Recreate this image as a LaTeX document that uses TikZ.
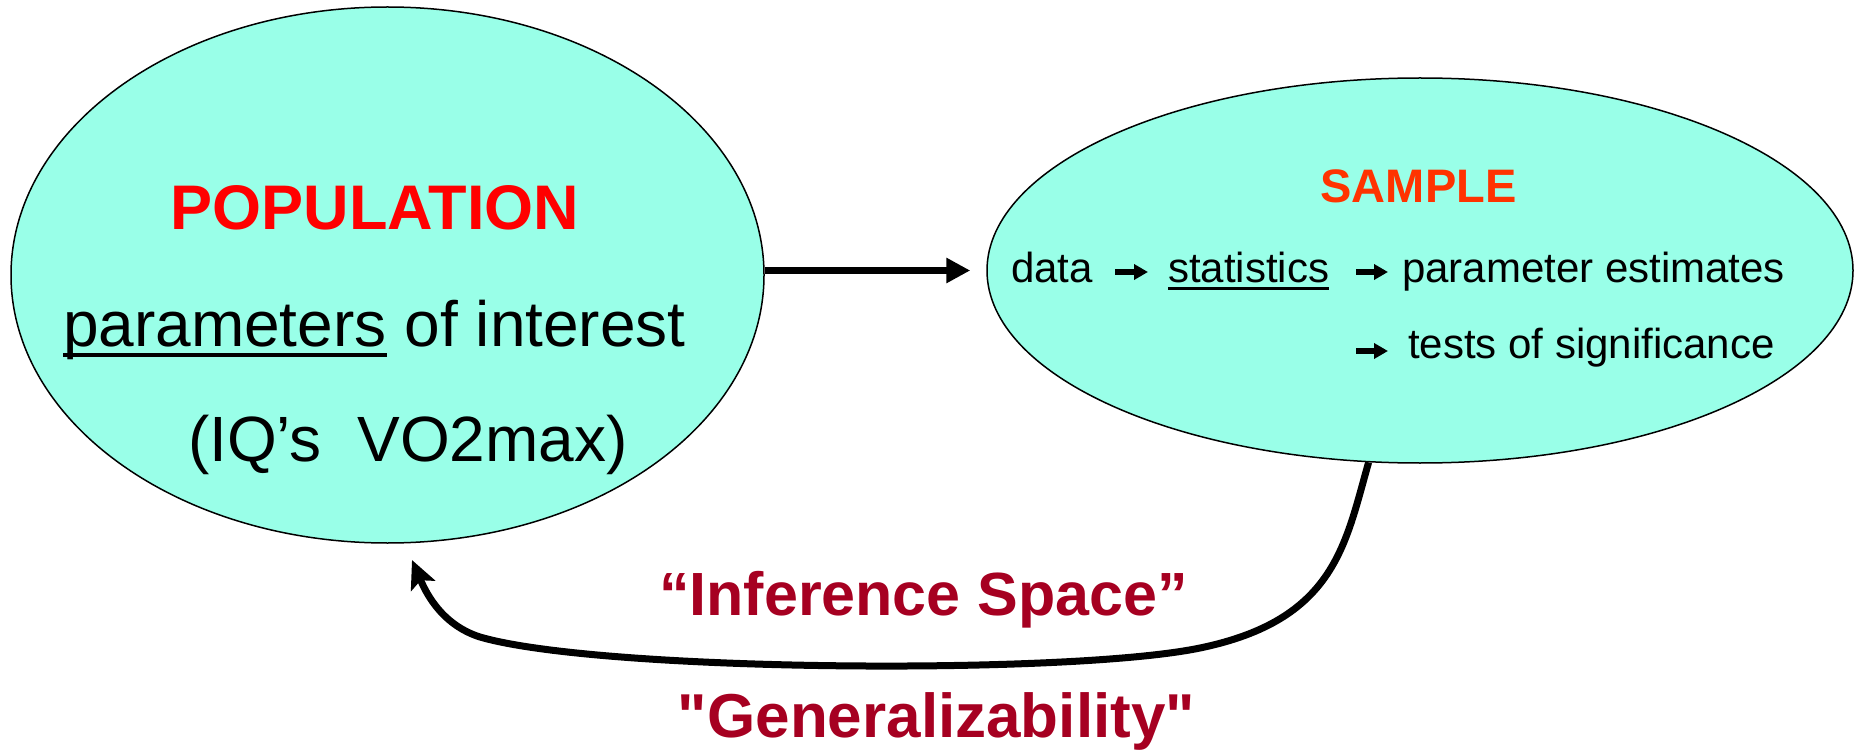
\documentclass[tikz,border=0pt]{standalone}
\usepackage{fontspec}
\setmainfont{Liberation Sans}[Ligatures=TeXOff]
\usetikzlibrary{shapes.geometric,arrows.meta,calc}

\definecolor{aquafill}{RGB}{153,255,232}
\definecolor{popred}{RGB}{255,0,0}
\definecolor{samporange}{RGB}{255,51,0}
\definecolor{winered}{RGB}{166,0,33}

\tikzset{
  blob/.style={ellipse, draw=black, line width=1.5pt, fill=aquafill, inner sep=0pt},
  txt/.style={inner sep=0pt, outer sep=0pt},
  big/.style={txt, font=\fontsize{64}{76}\selectfont},
  mid/.style={txt, font=\fontsize{42}{50}\selectfont},
  uline/.style={line width=#1},
  mainarrow/.style={line width=7pt, -{Triangle[length=24pt,width=24pt]}},
  backarrow/.style={line width=7pt, -{Stealth[length=28pt,width=26pt,inset=6pt]}},
  minarrow/.style={line width=6pt, -{Triangle[length=14pt,width=15pt]}},
}

\begin{document}
\begin{tikzpicture}[x=1pt,y=-1pt]
\useasboundingbox (0,0) rectangle (1855,751);

% the two sets
\node[blob, minimum width=753pt, minimum height=536pt] (pop) at (387.5,275) {};
\node[blob, minimum width=866pt, minimum height=385pt] (samp) at (1420,270.5) {};

% population text
\node[txt, anchor=base, text=popred, font=\fontsize{63}{75}\selectfont\bfseries] (poptitle) at (375,230) {POPULATION};
\node[big, anchor=base west] (par) at (63,346) {parameters};
\node[big, anchor=base west] (interest) at ($(par.base east)+(18,0)$) {of interest};
\draw[uline=4pt] ($(par.base west)+(0,9)$) -- ($(par.base east)+(0,9)$);
\node[big, anchor=base west] (examples) at (188,461) {(IQ’s~~VO2max)};

% sample text
\node[txt, anchor=base, text=samporange, font=\fontsize{47}{56}\selectfont\bfseries] (samptitle) at (1418.5,203) {SAMPLE};
\node[mid, anchor=base west] (data) at (1011,283) {data};
\node[mid, anchor=base west] (stat) at (1168,283) {statistics};
\draw[uline=3pt] ($(stat.base west)+(0,6)$) -- ($(stat.base east)+(0,6)$);
\node[mid, anchor=base west] (est) at (1402,283) {parameter estimates};
\node[mid, anchor=base west] (tests) at (1408,358) {tests of significance};

% small arrows inside the sample
\coordinate (a1s) at (1115,272); \coordinate (a1e) at (1148,272);
\coordinate (a2s) at (1356,272); \coordinate (a2e) at (1388,272);
\coordinate (a3s) at (1356,351); \coordinate (a3e) at (1388,351);
\draw[minarrow] (a1s) -- (a1e);
\draw[minarrow] (a2s) -- (a2e);
\draw[minarrow] (a3s) -- (a3e);

% population -> sample
\draw[mainarrow] (pop.east |- samp.west) -- ($(samp.west)+(-16,0)$);

% sample -> population (inference)
\coordinate (tip) at (412,560);
\draw[backarrow] (samp.-105) .. controls (1345,545) and (1335,620) .. (1200,648)
  .. controls (1070,675) and (600,672) .. (480,637)
  .. controls (439,624) and (424,588) .. (tip);

% labels
\node[txt, anchor=base, text=winered, font=\fontsize{61}{72}\selectfont\bfseries] (infer) at (923.5,615) {“Inference Space”};
\node[txt, anchor=base, text=winered, font=\fontsize{62}{74}\selectfont\bfseries] (gen) at (936.5,737) {"Generalizability"};
\end{tikzpicture}
\end{document}
